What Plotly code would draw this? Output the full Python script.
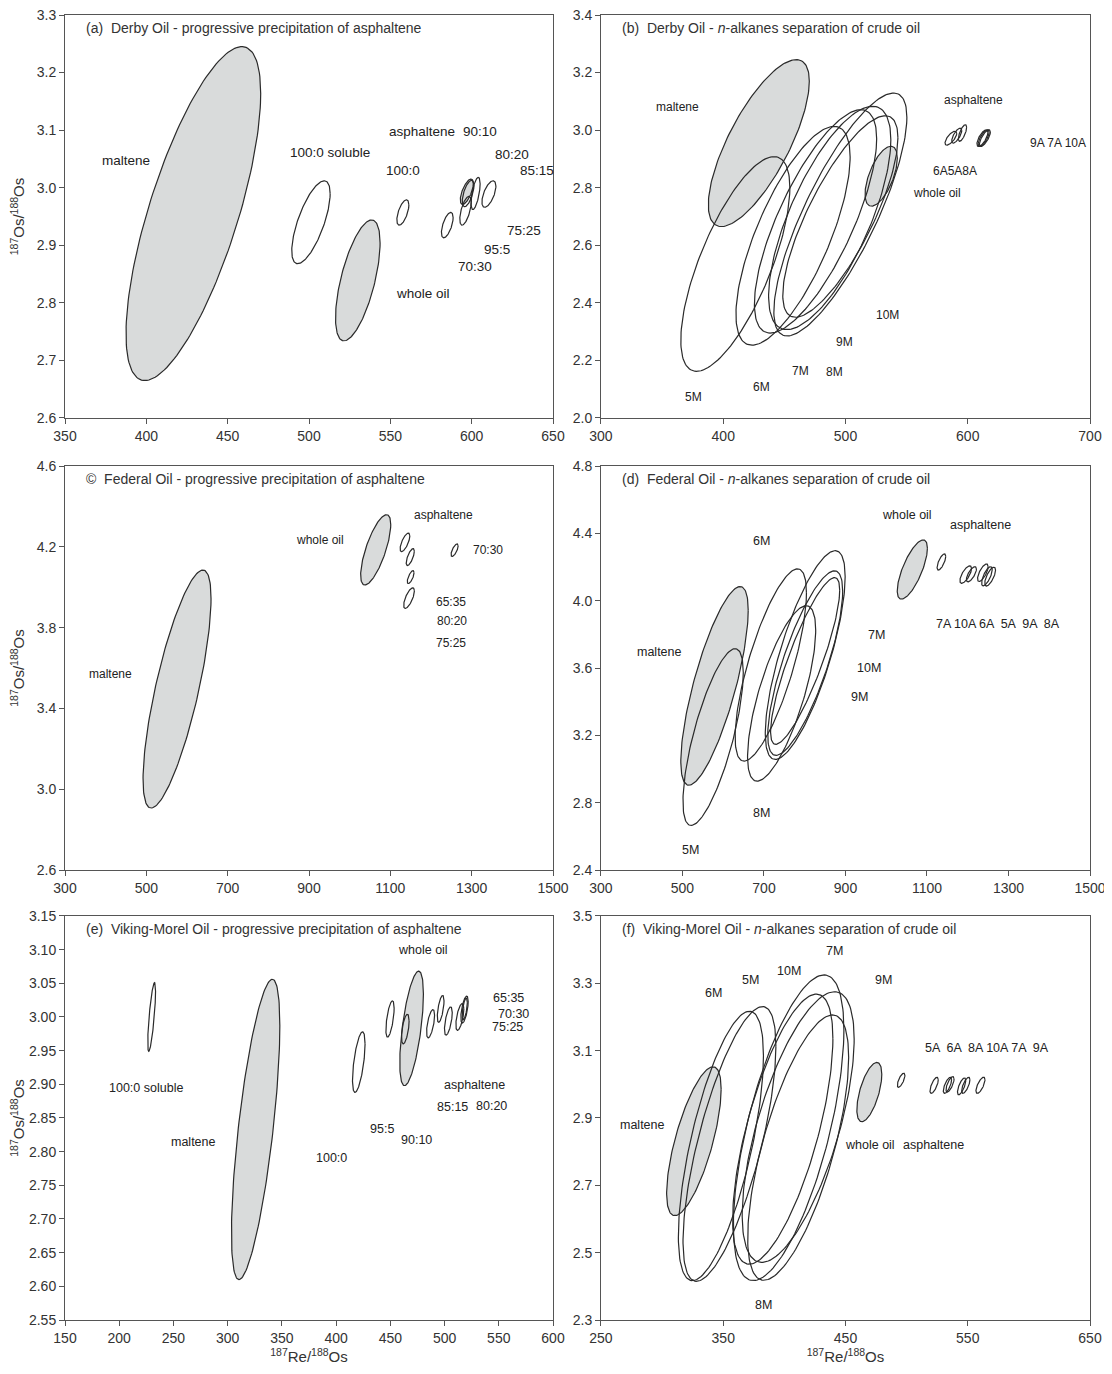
import numpy as np
import plotly.graph_objects as go

# ---------------- data (centre x, centre y, 2-sigma half widths, error correlation) ----------------
# (a) Derby Oil - progressive precipitation of asphaltene
A_CX = [428.9, 530.0, 597.0, 501.2, 557.7, 585.0, 596.2, 597.8, 602.4, 610.6]
A_CY = [2.955, 2.839, 2.993, 2.940, 2.957, 2.935, 2.960, 2.990, 2.990, 2.989]
A_SX = [41.4, 13.7, 4.0, 11.8, 3.7, 3.6, 3.5, 3.6, 2.8, 4.3]
A_SY = [0.290, 0.105, 0.022, 0.072, 0.022, 0.022, 0.025, 0.023, 0.028, 0.023]
A_RHO = [0.72, 0.62, 0.65, 0.69, 0.60, 0.60, 0.60, 0.60, 0.60, 0.60]
A_FILL = [1, 1, 1, 0, 0, 0, 0, 0, 0, 0]
A_LABELS = ["maltene", "100:0 soluble", "asphaltene", "90:10", "80:20", "85:15", "100:0",
            "75:25", "95:5", "70:30", "whole oil"]
A_LX = [387.7, 512.6, 569.4, 605.0, 624.9, 640.3, 557.7, 632.2, 615.4, 601.8, 570.3]
A_LY = [3.048, 3.062, 3.097, 3.097, 3.058, 3.030, 3.030, 2.925, 2.893, 2.863, 2.816]
A_XTICKS = [350, 400, 450, 500, 550, 600, 650]
A_YTICKS = [2.6, 2.7, 2.8, 2.9, 3.0, 3.1, 3.2, 3.3]

# (b) Derby Oil - n-alkanes separation of crude oil
B_CX = [429.1, 529.2, 409.9, 457.1, 475.5, 487.1, 495.8, 495.8, 586.2, 591.0, 595.7, 612.0, 613.0, 614.0]
B_CY = [2.955, 2.840, 2.535, 2.633, 2.683, 2.695, 2.707, 2.700, 2.972, 2.981, 2.990, 2.972, 2.972, 2.972]
B_SX = [41.3, 13.2, 44.6, 46.7, 50.0, 50.0, 54.4, 47.1, 4.8, 4.1, 3.4, 4.5, 4.5, 4.5]
B_SY = [0.290, 0.104, 0.373, 0.380, 0.388, 0.388, 0.422, 0.350, 0.024, 0.026, 0.029, 0.029, 0.029, 0.029]
B_RHO = [0.74, 0.60, 0.71, 0.72, 0.74, 0.70, 0.80, 0.78, 0.70, 0.70, 0.70, 0.70, 0.72, 0.74]
B_FILL = [1, 1, 0, 0, 0, 0, 0, 0, 0, 0, 0, 0, 0, 0]
B_LABELS = ["maltene", "asphaltene", "9A 7A 10A", "6A5A8A", "whole oil", "10M", "9M", "7M", "8M", "6M", "5M"]
B_LX = [362.6, 604.3, 674.2, 589.3, 574.8, 534.2, 498.8, 463.2, 490.7, 431.3, 375.7]
B_LY = [3.080, 3.103, 2.955, 2.859, 2.780, 2.359, 2.263, 2.162, 2.160, 2.109, 2.074]
B_XTICKS = [300, 400, 500, 600, 700]
B_YTICKS = [2.0, 2.2, 2.4, 2.6, 2.8, 3.0, 3.2, 3.4]

# (c) Federal Oil - progressive precipitation of asphaltene
C_CX = [575.5, 1064.0, 1136.0, 1149.0, 1150.0, 1146.0, 1258.0]
C_CY = [3.496, 4.185, 4.222, 4.149, 4.050, 3.946, 4.183]
C_SX = [83.6, 37.0, 12.0, 10.0, 8.4, 13.2, 8.8]
C_SY = [0.589, 0.174, 0.046, 0.042, 0.032, 0.051, 0.031]
C_RHO = [0.76, 0.72, 0.70, 0.70, 0.70, 0.70, 0.70]
C_FILL = [1, 1, 0, 0, 0, 0, 0]
C_LABELS = ["maltene", "whole oil", "asphaltene", "70:30", "65:35", "80:20", "75:25"]
C_LX = [412.7, 927.6, 1231.0, 1341.0, 1249.0, 1251.6, 1249.0]
C_LY = [3.571, 4.235, 4.359, 4.182, 3.928, 3.832, 3.725]
C_XTICKS = [300, 500, 700, 900, 1100, 1300, 1500]
C_YTICKS = [2.6, 3.0, 3.4, 3.8, 4.2, 4.6]

# (d) Federal Oil - n-alkanes separation of crude oil
D_CX = [578.6, 1064.0, 575.2, 716.7, 743.3, 801.2, 801.2, 801.0,
        1135.4, 1195.0, 1209.0, 1237.0, 1247.0, 1255.0]
D_CY = [3.494, 4.185, 3.190, 3.618, 3.449, 3.677, 3.629, 3.642,
        4.230, 4.155, 4.157, 4.166, 4.145, 4.143]
D_SX = [82.7, 37.0, 74.0, 87.5, 83.6, 98.0, 91.9, 84.8,
        10.7, 14.3, 12.3, 13.0, 13.0, 13.3]
D_SY = [0.590, 0.176, 0.525, 0.571, 0.521, 0.620, 0.548, 0.495,
        0.048, 0.052, 0.045, 0.052, 0.057, 0.056]
D_RHO = [0.76, 0.72, 0.73, 0.75, 0.72, 0.75, 0.78, 0.85,
         0.70, 0.70, 0.70, 0.70, 0.70, 0.70]
D_FILL = [1, 1, 0, 0, 0, 0, 0, 0, 0, 0, 0, 0, 0, 0]
D_LABELS = ["whole oil", "asphaltene", "6M", "maltene", "7M", "10M", "9M", "8M", "5M",
            "7A 10A 6A  5A  9A  8A"]
D_LX = [1051.5, 1231.8, 694.5, 444.6, 974.9, 958.4, 934.0, 692.8, 518.6, 1275.3]
D_LY = [4.511, 4.447, 4.356, 3.695, 3.794, 3.599, 3.430, 2.739, 2.520, 3.864]
D_XTICKS = [300, 500, 700, 900, 1100, 1300, 1500]
D_YTICKS = [2.4, 2.8, 3.2, 3.6, 4.0, 4.4, 4.8]

# (e) Viking-Morel Oil - progressive precipitation of asphaltene
E_CX = [325.8, 469.6, 229.9, 420.9, 449.7, 463.8, 487.1, 496.4, 503.5, 514.1, 518.4, 518.6]
E_CY = [2.833, 2.983, 3.000, 2.933, 2.997, 2.982, 2.990, 3.012, 2.994, 3.000, 3.011, 3.012]
E_SX = [22.3, 10.9, 3.6, 5.8, 3.8, 3.5, 3.7, 3.1, 3.6, 3.7, 3.4, 2.4]
E_SY = [0.223, 0.085, 0.051, 0.045, 0.027, 0.022, 0.021, 0.020, 0.021, 0.020, 0.020, 0.016]
E_RHO = [0.69, 0.60, 0.75, 0.60, 0.60, 0.55, 0.60, 0.60, 0.60, 0.60, 0.60, 0.60]
E_FILL = [1, 1, 0, 0, 0, 0, 0, 0, 0, 0, 0, 0]
E_LABELS = ["100:0 soluble", "maltene", "100:0", "95:5", "90:10", "whole oil", "asphaltene",
            "85:15", "80:20", "65:35", "70:30", "75:25"]
E_LX = [224.3, 268.2, 396.0, 442.2, 473.9, 480.1, 527.4, 507.5, 542.9, 558.7, 563.7, 557.7]
E_LY = [2.895, 2.815, 2.791, 2.833, 2.818, 3.099, 2.899, 2.866, 2.868, 3.028, 3.005, 2.985]
E_XTICKS = [150, 200, 250, 300, 350, 400, 450, 500, 550, 600]
E_YTICKS = [2.55, 2.60, 2.65, 2.70, 2.75, 2.80, 2.85, 2.90, 2.95, 3.00, 3.05, 3.10, 3.15]

# (f) Viking-Morel Oil - n-alkanes separation of crude oil
F_CX = [326.0, 469.5, 348.1, 355.1, 398.7, 403.5, 411.3, 411.3,
        495.5, 522.5, 533.4, 535.5, 545.0, 548.4, 560.4]
F_CY = [2.831, 2.977, 2.817, 2.823, 2.867, 2.871, 2.873, 2.812,
        3.012, 2.997, 2.997, 3.000, 2.994, 2.997, 2.997]
F_SX = [22.3, 10.2, 34.8, 38.0, 41.0, 45.2, 45.8, 41.3,
        3.1, 3.4, 3.4, 3.3, 3.4, 3.4, 3.7]
F_SY = [0.221, 0.088, 0.400, 0.408, 0.401, 0.454, 0.402, 0.394,
        0.021, 0.024, 0.024, 0.023, 0.025, 0.024, 0.024]
F_RHO = [0.70, 0.60, 0.67, 0.71, 0.67, 0.64, 0.65, 0.68,
         0.70, 0.70, 0.70, 0.70, 0.70, 0.70, 0.70]
F_FILL = [1, 1, 0, 0, 0, 0, 0, 0, 0, 0, 0, 0, 0, 0, 0]
F_LABELS = ["6M", "5M", "10M", "7M", "9M", "maltene", "whole oil", "asphaltene", "8M",
            "5A  6A  8A 10A 7A  9A"]
F_LX = [342.3, 372.2, 404.1, 441.0, 480.8, 284.3, 470.0, 521.7, 383.0, 565.8]
F_LY = [3.272, 3.309, 3.337, 3.396, 3.310, 2.880, 2.820, 2.820, 2.345, 3.109]
F_XTICKS = [250, 350, 450, 550, 650]
F_YTICKS = [2.3, 2.5, 2.7, 2.9, 3.1, 3.3, 3.5]

TITLES = [
    "(a)  Derby Oil - progressive precipitation of asphaltene",
    "(b)  Derby Oil - <i>n</i>-alkanes separation of crude oil",
    "©  Federal Oil - progressive precipitation of asphaltene",
    "(d)  Federal Oil - <i>n</i>-alkanes separation of crude oil",
    "(e)  Viking-Morel Oil - progressive precipitation of asphaltene",
    "(f)  Viking-Morel Oil - <i>n</i>-alkanes separation of crude oil",
]

panels = [
    (A_CX, A_CY, A_SX, A_SY, A_RHO, A_FILL, A_LABELS, A_LX, A_LY, A_XTICKS, A_YTICKS, "{:.1f}", 13.5),
    (B_CX, B_CY, B_SX, B_SY, B_RHO, B_FILL, B_LABELS, B_LX, B_LY, B_XTICKS, B_YTICKS, "{:.1f}", 12),
    (C_CX, C_CY, C_SX, C_SY, C_RHO, C_FILL, C_LABELS, C_LX, C_LY, C_XTICKS, C_YTICKS, "{:.1f}", 12),
    (D_CX, D_CY, D_SX, D_SY, D_RHO, D_FILL, D_LABELS, D_LX, D_LY, D_XTICKS, D_YTICKS, "{:.1f}", 12.5),
    (E_CX, E_CY, E_SX, E_SY, E_RHO, E_FILL, E_LABELS, E_LX, E_LY, E_XTICKS, E_YTICKS, "{:.2f}", 12.5),
    (F_CX, F_CY, F_SX, F_SY, F_RHO, F_FILL, F_LABELS, F_LX, F_LY, F_XTICKS, F_YTICKS, "{:.1f}", 12.5),
]

# ---------------- drawing ----------------
FONT = "Liberation Sans, Arial, sans-serif"
LINE = "#2a2a2a"
GREY = "#d9dbdb"
AXC = "#555555"


def ellipse(cx, cy, sx, sy, rho, n=160):
    t = np.linspace(0, 2 * np.pi, n)
    x = cx + sx * np.cos(t)
    y = cy + sy * (rho * np.cos(t) + np.sqrt(1 - rho ** 2) * np.sin(t))
    return x, y


XDOM = [[0.0, 0.4761], [0.5229, 1.0]]
YDOM = [[0.6912, 1.0], [0.3448, 0.6544], [0.0, 0.3096]]

fig = go.Figure()
annotations = []
layout = {}

for i, (cx, cy, sx, sy, rho, fill, labs, lx, ly, xt, yt, yfmt, lsize) in enumerate(panels):
    sfx = "" if i == 0 else str(i + 1)
    xa, ya = "x" + sfx, "y" + sfx
    row, col = i // 2, i % 2
    order = [j for j in range(len(cx)) if fill[j]] + [j for j in range(len(cx)) if not fill[j]]
    for j in order:
        ex, ey = ellipse(cx[j], cy[j], sx[j], sy[j], rho[j])
        fig.add_trace(go.Scatter(
            x=ex, y=ey, mode="lines", xaxis=xa, yaxis=ya,
            fill="toself" if fill[j] else "none",
            fillcolor=GREY if fill[j] else None,
            line=dict(color=LINE, width=1.2),
            hoverinfo="skip", showlegend=False))
    for t, px, py in zip(labs, lx, ly):
        annotations.append(dict(x=px, y=py, xref=xa, yref=ya, text=t, showarrow=False,
                                xanchor="center", yanchor="middle",
                                font=dict(family=FONT, size=lsize, color="#222")))
    annotations.append(dict(x=0.039, y=0.968, xref=xa + " domain", yref=ya + " domain",
                            text=TITLES[i], showarrow=False, xanchor="left", yanchor="middle",
                            font=dict(family=FONT, size=14, color="#333")))
    axis_common = dict(showline=True, mirror=True, linecolor=AXC, linewidth=1,
                       ticks="outside", ticklen=5, tickcolor=AXC, showgrid=False, zeroline=False,
                       automargin=False, ticklabeloverflow="allow",
                       tickfont=dict(family=FONT, size=14, color="#333"))
    xaxis = dict(axis_common, domain=XDOM[col], anchor=ya, range=[xt[0], xt[-1]],
                 tickmode="array", tickvals=xt, ticktext=[str(v) for v in xt])
    yaxis = dict(axis_common, domain=YDOM[row], anchor=xa, range=[yt[0], yt[-1]],
                 tickmode="array", tickvals=yt, ticktext=[yfmt.format(v) for v in yt])
    if col == 0:
        yaxis["title"] = dict(text="<sup>187</sup>Os/<sup>188</sup>Os",
                              font=dict(family=FONT, size=15, color="#333"), standoff=8)
    if row == 2:
        xaxis["title"] = dict(text="<sup>187</sup>Re/<sup>188</sup>Os",
                              font=dict(family=FONT, size=15, color="#333"), standoff=6)
    layout["xaxis" + sfx] = xaxis
    layout["yaxis" + sfx] = yaxis

fig.update_layout(
    width=1104, height=1358,
    margin=dict(l=57, r=22, t=7, b=46, autoexpand=False),
    paper_bgcolor="white", plot_bgcolor="white",
    annotations=annotations,
    **layout,
)

fig.write_html("out.html")
